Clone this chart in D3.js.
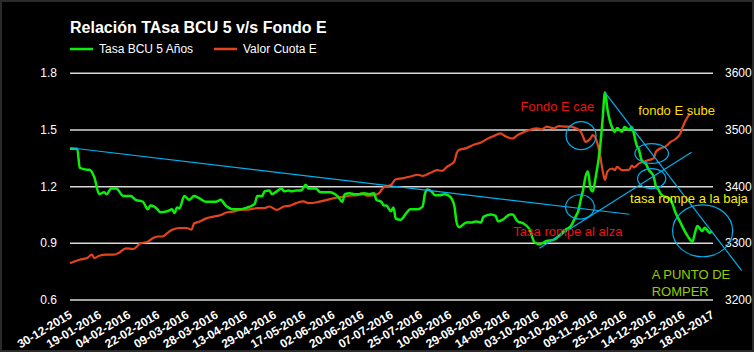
<!DOCTYPE html>
<html>
<head>
<meta charset="utf-8">
<script src="https://cdn.jsdelivr.net/npm/d3@7"></script>
<style>
  html, body { margin: 0; padding: 0; background: #000; }
  svg { display: block; font-family: "Liberation Sans", Arial, sans-serif; }
</style>
</head>
<body>
<div id="chart"></div>
<script>
// Etiquetas del eje X (una cada 12 días hábiles)
const xLabels = ['30-12-2015', '19-01-2016', '04-02-2016', '22-02-2016', '09-03-2016', '28-03-2016',
  '13-04-2016', '29-04-2016', '17-05-2016', '02-06-2016', '20-06-2016', '07-07-2016', '25-07-2016',
  '10-08-2016', '29-08-2016', '14-09-2016', '03-10-2016', '20-10-2016', '09-11-2016', '25-11-2016',
  '14-12-2016', '30-12-2016', '18-01-2017'];
const labelStep = 12;

const leftTicks = [0.6, 0.9, 1.2, 1.5, 1.8];
const rightTicks = [3200, 3300, 3400, 3500, 3600];

// Tasa BCU 5 Años: [día, tasa]
const tasaBCU = [
  [0, 1.40], [3, 1.40], [4, 1.30], [7, 1.29], [8, 1.29], [10, 1.25], [12, 1.16], [14, 1.17],
  [15, 1.16], [17, 1.19], [19, 1.19], [22, 1.15], [25, 1.15], [27, 1.13], [30, 1.12], [32, 1.08],
  [33, 1.10], [36, 1.08], [37, 1.065], [40, 1.07], [42, 1.08], [43, 1.06], [44, 1.09], [45, 1.085],
  [47, 1.15], [49, 1.13], [51, 1.15], [53, 1.14], [56, 1.12], [60, 1.12], [62, 1.13], [64, 1.10],
  [67, 1.08], [70, 1.08], [73, 1.09], [75, 1.10], [76, 1.11], [77, 1.15], [79, 1.15], [80, 1.175],
  [82, 1.18], [83, 1.16], [85, 1.175], [87, 1.19], [88, 1.175], [90, 1.18], [91, 1.175], [93, 1.18],
  [95, 1.18], [97, 1.21], [98, 1.19], [101, 1.19], [103, 1.17], [107, 1.17], [109, 1.16], [110, 1.15],
  [112, 1.12], [113, 1.16], [115, 1.165], [117, 1.16], [119, 1.16], [121, 1.165], [123, 1.16],
  [125, 1.165], [126, 1.13], [128, 1.12], [129, 1.10], [130, 1.10], [132, 1.07], [133, 1.09],
  [134, 1.03], [136, 1.025], [138, 1.055], [140, 1.08], [143, 1.08], [145, 1.095], [146, 1.165],
  [147, 1.185], [149, 1.17], [150, 1.155], [152, 1.155], [154, 1.16], [156, 1.15], [158, 1.10],
  [159, 1.01], [160, 0.985], [163, 1.01], [165, 1.01], [167, 1.015], [169, 1.01], [170, 1.04],
  [173, 1.053], [175, 1.045], [176, 1.017], [178, 1.026], [181, 1.053], [182, 1.053], [184, 1.017],
  [186, 1.008], [189, 0.974], [191, 0.905], [193, 0.895], [196, 0.912], [199, 0.92], [201, 0.938],
  [204, 0.974], [206, 0.992], [208, 1.044], [209, 1.07], [210, 1.13], [211, 1.184], [212, 1.254],
  [213, 1.28], [214, 1.193], [215, 1.175], [216, 1.237], [218, 1.41], [219, 1.553], [220, 1.70],
  [221, 1.61], [223, 1.51], [224, 1.49], [225, 1.51], [227, 1.49], [228, 1.516], [230, 1.50],
  [231, 1.516], [232, 1.474], [233, 1.42], [234, 1.395], [235, 1.342], [237, 1.316], [238, 1.289],
  [240, 1.254], [241, 1.20], [242, 1.184], [243, 1.16], [247, 1.13], [249, 1.062], [251, 1.01],
  [254, 0.938], [256, 0.909], [257, 0.956], [258, 0.992], [260, 0.965], [261, 0.983], [262, 0.97],
  [263, 0.956], [264, 0.965]
];

// Valor Cuota E: [día, valor]
const cuotaE = [
  [0, 3265], [4, 3271], [7, 3274], [9, 3280], [10, 3274], [12, 3278], [15, 3280], [18, 3280],
  [20, 3283], [23, 3291], [26, 3290], [29, 3300], [32, 3303], [34, 3309], [36, 3312], [38, 3312],
  [40, 3318], [42, 3324], [45, 3327], [48, 3327], [50, 3324], [51, 3335], [53, 3338], [56, 3344],
  [59, 3347], [62, 3350], [64, 3354], [67, 3356], [70, 3359], [74, 3360], [77, 3362], [80, 3362],
  [82, 3365], [85, 3359], [88, 3365], [90, 3366], [93, 3371], [96, 3374], [98, 3371], [101, 3372],
  [104, 3375], [107, 3378], [110, 3381], [112, 3382], [115, 3384], [118, 3385], [120, 3388],
  [122, 3384], [125, 3385], [127, 3388], [129, 3399], [132, 3403], [134, 3413], [137, 3415],
  [140, 3418], [143, 3421], [145, 3419], [148, 3424], [151, 3429], [153, 3428], [155, 3435],
  [158, 3444], [159, 3459], [160, 3465], [163, 3468], [166, 3474], [169, 3478], [171, 3483],
  [174, 3489], [177, 3494], [179, 3489], [182, 3485], [184, 3491], [186, 3495], [189, 3500],
  [192, 3503], [194, 3501], [196, 3506], [199, 3503], [201, 3507], [204, 3506], [206, 3506],
  [208, 3503], [210, 3497], [211, 3488], [212, 3479], [214, 3485], [215, 3491], [216, 3487],
  [217, 3474], [218, 3455], [219, 3429], [220, 3412], [221, 3427], [223, 3432], [224, 3429],
  [225, 3435], [227, 3429], [230, 3430], [231, 3437], [232, 3434], [234, 3441], [236, 3444],
  [238, 3447], [240, 3450], [241, 3462], [243, 3468], [245, 3471], [247, 3479], [249, 3484],
  [251, 3494], [252, 3506], [254, 3523], [255, 3529]
];

// Líneas de tendencia dibujadas a mano (eje izquierdo)
const trendLines = [
  [[0, 1.406], [230, 1.054]],
  [[193, 0.874], [255.6, 1.382]],
  [[220, 1.698], [276.2, 0.756]]
];

// Círculos de anotación: [día0, día1, valor0, valor1]
const marks = [
  [204, 216.3, 1.544, 1.396],
  [203.8, 215.6, 1.157, 1.028],
  [232.3, 246.1, 1.428, 1.323],
  [233.4, 245, 1.295, 1.19],
  [247.8, 272.5, 1.103, 0.829]
];

// Textos de anotación: [día, valor, texto, color]
const notes = [
  [185.3, 1.598, 'Fondo E cae', '#e81414'],
  [233.7, 1.577, 'fondo E sube', '#ffdd00'],
  [230.3, 1.116, 'tasa rompe a la baja', '#ffee00'],
  [182.3, 0.940, 'Tasa rompe al alza', '#e81414'],
  [239.2, 0.712, 'A PUNTO DE', '#99cc00'],
  [239.2, 0.621, 'ROMPER', '#99cc00']
];

const W = 754, H = 352;
const plot = { left: 70, right: 712, top: 73.3, bottom: 300 };

const svg = d3.select('#chart').append('svg')
  .attr('width', W)
  .attr('height', H);

svg.append('rect')
  .attr('x', 1).attr('y', 1)
  .attr('width', W - 2).attr('height', H - 2)
  .attr('fill', '#000')
  .attr('stroke', '#2a2a2a')
  .attr('stroke-width', 2);

const x = d3.scaleLinear()
  .domain([0, labelStep * (xLabels.length - 1)])
  .range([plot.left, plot.right]);

const y = d3.scaleLinear().domain([0.6, 1.8]).range([plot.bottom, plot.top]);
const y2 = d3.scaleLinear().domain([3200, 3600]).range([plot.bottom, plot.top]);

// Rejilla
svg.append('g')
  .selectAll('line')
  .data(leftTicks)
  .enter()
  .append('line')
  .attr('x1', plot.left)
  .attr('x2', plot.right + 1)
  .attr('y1', d => y(d))
  .attr('y2', d => y(d))
  .attr('stroke', '#d9d9d9')
  .attr('stroke-width', 1.5);

// Eje izquierdo
svg.append('g')
  .selectAll('text')
  .data(leftTicks)
  .enter()
  .append('text')
  .attr('x', 57)
  .attr('y', d => y(d) + 4)
  .attr('text-anchor', 'end')
  .attr('fill', '#fff')
  .style('font-size', '12px')
  .text(d => d.toFixed(1));

// Eje derecho
svg.append('g')
  .selectAll('text')
  .data(rightTicks)
  .enter()
  .append('text')
  .attr('x', 725)
  .attr('y', d => y2(d) + 4)
  .attr('fill', '#fff')
  .style('font-size', '12px')
  .text(d => d);

// Eje X rotado
svg.append('g')
  .selectAll('text')
  .data(xLabels)
  .enter()
  .append('text')
  .attr('transform', (d, i) => `translate(${x(i * labelStep) + 3},317) rotate(-31)`)
  .attr('text-anchor', 'end')
  .attr('fill', '#fff')
  .style('font-size', '12px')
  .style('font-weight', 'bold')
  .text(d => d);

// Series
const lineL = d3.line().x(d => x(d[0])).y(d => y(d[1])).curve(d3.curveMonotoneX);
const lineR = d3.line().x(d => x(d[0])).y(d => y2(d[1])).curve(d3.curveMonotoneX);

svg.append('path')
  .datum(cuotaE)
  .attr('d', lineR)
  .attr('fill', 'none')
  .attr('stroke', '#e2441c')
  .attr('stroke-width', 2.2);

svg.append('path')
  .datum(tasaBCU)
  .attr('d', lineL)
  .attr('fill', 'none')
  .attr('stroke', '#0aee0a')
  .attr('stroke-width', 2.5);

// Tendencias
const straight = d3.line().x(d => x(d[0])).y(d => y(d[1]));
svg.append('g')
  .selectAll('path')
  .data(trendLines)
  .enter()
  .append('path')
  .attr('d', straight)
  .attr('fill', 'none')
  .attr('stroke', '#00b0f0')
  .attr('stroke-width', 1.2);

svg.append('g')
  .selectAll('ellipse')
  .data(marks)
  .enter()
  .append('ellipse')
  .attr('cx', d => (x(d[0]) + x(d[1])) / 2)
  .attr('cy', d => (y(d[2]) + y(d[3])) / 2)
  .attr('rx', d => (x(d[1]) - x(d[0])) / 2)
  .attr('ry', d => (y(d[3]) - y(d[2])) / 2)
  .attr('fill', 'none')
  .attr('stroke', '#00b0f0')
  .attr('stroke-width', 1.2);

svg.append('g')
  .selectAll('text')
  .data(notes)
  .enter()
  .append('text')
  .attr('x', d => x(d[0]))
  .attr('y', d => y(d[1]))
  .attr('fill', d => d[3])
  .style('font-size', '13px')
  .text(d => d[2]);

// Título y leyenda
svg.append('text')
  .attr('x', 70)
  .attr('y', 33)
  .attr('fill', '#fff')
  .style('font-size', '16px')
  .style('font-weight', 'bold')
  .text('Relación TAsa BCU 5 v/s Fondo E');

const legend = [
  { name: 'Tasa BCU 5 Años', color: '#0aee0a', x: 70 },
  { name: 'Valor Cuota E', color: '#e2441c', x: 214 }
];
const lg = svg.append('g').selectAll('g').data(legend).enter().append('g')
  .attr('transform', d => `translate(${d.x},49)`);
lg.append('line')
  .attr('x1', 0).attr('x2', 23)
  .attr('stroke', d => d.color)
  .attr('stroke-width', 2.5);
lg.append('text')
  .attr('x', 29)
  .attr('y', 4)
  .attr('fill', '#fff')
  .style('font-size', '12px')
  .text(d => d.name);
</script>
</body>
</html>
